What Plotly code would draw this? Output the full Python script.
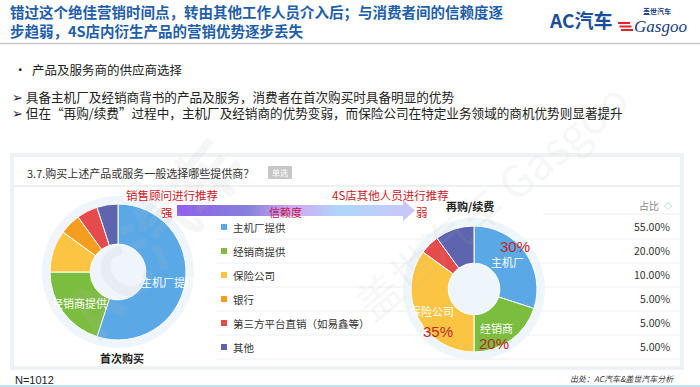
import plotly.graph_objects as go

W, H = 700, 387

# ---------------- data ----------------
providers = ['主机厂提供', '经销商提供', '保险公司', '银行', '第三方平台直销（如易鑫等）', '其他']
first_buy = [55, 20, 10, 5, 5, 5]          # 首次购买 (%)
rebuy = [30, 20, 35, 0, 5, 10]             # 再购/续费 (%)
share_labels = ['55.00%', '20.00%', '10.00%', '5.00%', '5.00%', '5.00%']
rebuy_short = ['主机厂', '经销商', '保险公司']
colors = ['#5aa9e6', '#7abd3f', '#fcc443', '#f59d1f', '#e64b4b', '#5f64ae']

title_lines = ['错过这个绝佳营销时间点，转由其他工作人员介入后；与消费者间的信赖度逐',
               '步趋弱，4S店内衍生产品的营销优势逐步丢失']
bullets = ['•  产品及服务商的供应商选择',
           '➢ 具备主机厂及经销商背书的产品及服务，消费者在首次购买时具备明显的优势',
           '➢ 但在“再购/续费”过程中，主机厂及经销商的优势变弱，而保险公司在特定业务领域的商机优势则显著提升']

CJK = 'Noto Sans CJK SC'
RED = '#cc2027'


def px_domain(cx, cy, r):
    return dict(x=[(cx - r) / W, (cx + r) / W], y=[1 - (cy + r) / H, 1 - (cy - r) / H])


fig = go.Figure()

shapes = []
ann = []

# title separator
shapes.append(dict(type='line', x0=0, x1=700, y0=43.5, y1=43.5, line=dict(color='#c9c9c9', width=1.5), layer='below'))
# bottom line
shapes.append(dict(type='line', x0=0, x1=700, y0=386, y1=386, line=dict(color='#bfe3f2', width=2), layer='below'))

# panel
shapes.append(dict(type='rect', x0=10, x1=684, y0=153, y1=370, fillcolor='#eef2f6', line=dict(width=0), layer='below'))
shapes.append(dict(type='rect', x0=14, x1=680, y0=157, y1=366, fillcolor='#ffffff', line=dict(width=0), layer='below'))
shapes.append(dict(type='line', x0=14, x1=680, y0=186, y1=186, line=dict(color='#e9edf1', width=1.5), layer='below'))

# table lines
shapes.append(dict(type='line', x0=543, x1=680, y0=214, y1=214, line=dict(color='#eef0f3', width=1.2), layer='below'))
for i in range(len(providers)):
    yl = 239 + 24 * i
    shapes.append(dict(type='line', x0=217, x1=680, y0=yl, y1=yl, line=dict(color='#eef0f3', width=1.2), layer='below'))

# pale rings behind donuts
LCX, LCY, LR = 118, 272, 68
RCX, RCY, RR = 474, 289, 63
shapes.append(dict(type='circle', x0=LCX - LR - 8, x1=LCX + LR + 8, y0=LCY - LR - 8, y1=LCY + LR + 8,
                   fillcolor='#eef5fb', line=dict(width=0), layer='below'))
shapes.append(dict(type='circle', x0=RCX - RR - 8, x1=RCX + RR + 8, y0=RCY - RR - 8, y1=RCY + RR + 8,
                   fillcolor='#eef5fb', line=dict(width=0), layer='below'))

# legend squares
for i, c in enumerate(providers):
    yc = 227 + 24 * i
    shapes.append(dict(type='rect', x0=221, x1=227, y0=yc - 3, y1=yc + 3, fillcolor=colors[i], line=dict(width=0)))

# 单选 badge
shapes.append(dict(type='rect', x0=268, x1=292, y0=166, y1=179, fillcolor='#c7c7c7', line=dict(width=0)))

# Gasgoo red stripes
for k in range(3):
    shapes.append(dict(type='line', x0=618 + k * 1.5, x1=630 + k * 1.5, y0=23 + k * 3.5, y1=23 + k * 3.5,
                       line=dict(color='#e0262b', width=2)))

# donuts
fig.add_trace(go.Pie(values=first_buy, labels=providers, hole=0.41, sort=False, direction='clockwise',
                     rotation=0, marker=dict(colors=colors, line=dict(color='white', width=1)),
                     textinfo='none', hoverinfo='skip', showlegend=False,
                     domain=px_domain(LCX, LCY, LR)))
fig.add_trace(go.Pie(values=rebuy, labels=providers, hole=0.41, sort=False, direction='clockwise',
                     rotation=0, marker=dict(colors=colors, line=dict(color='white', width=1)),
                     textinfo='none', hoverinfo='skip', showlegend=False,
                     domain=px_domain(RCX, RCY, RR)))

# gradient arrow
fig.add_trace(go.Scatter(x=[177, 403, 403, 415, 403, 403, 177, 177],
                         y=[205, 205, 200, 210.5, 221, 216, 216, 205],
                         mode='lines', fill='toself', line=dict(width=0), hoverinfo='skip', showlegend=False,
                         fillgradient=dict(type='horizontal',
                                           colorscale=[[0, '#9160ec'], [0.3, '#8580da'], [0.48, '#d2a6f2'],
                                                       [0.68, '#aed6fa'], [1, '#cbc6f8']])))


def txt(x, y, s, size, color='#222', xanchor='center', bold=False, family=CJK, italic=False, angle=0,
        align='left'):
    ann.append(dict(x=x, y=y, xref='x', yref='y', text=('<b>%s</b>' % s) if bold else (('<i>%s</i>' % s) if italic else s),
                    showarrow=False, xanchor=xanchor, yanchor='middle', textangle=angle, align=align,
                    font=dict(family=family, size=size, color=color)))


# faint watermarks
txt(150, 235, 'AC汽车', 70, 'rgba(180,180,180,0.12)', bold=True, angle=-50)
txt(490, 200, '盖世汽车 Gasgoo', 44, 'rgba(180,180,180,0.11)', angle=-40)

# title (two lines in one text block)
txt(8, 21, '<br>'.join(title_lines), 14.5, '#1f5ea8', 'left', bold=True)
# logo
txt(580, 19, 'AC汽车', 19, '#1b4f9a', bold=True)
txt(657, 11, '盖世汽车', 7, '#1a3c80', bold=True)
txt(660, 26, 'Gasgoo', 17, '#1a3c80', italic=True, family='Liberation Serif')

# bullets
txt(12, 69, bullets[0], 12.5, '#222', 'left')
txt(10, 104.5, '<br>'.join(bullets[1:]), 12.6, '#222', 'left')

# panel header
txt(25, 173, '3.7.购买上述产品或服务一般选择哪些提供商？', 11, '#333', 'left')
txt(280, 172.5, '单选', 8, '#ffffff')

# arrow labels
txt(172, 195, '销售顾问进行推荐', 11.5, RED)
txt(390, 195, '4S店其他人员进行推荐', 11.5, RED)
txt(167, 212, '强', 11.5, RED)
txt(422, 212, '弱', 11.5, RED)
txt(285, 212, '信赖度', 11, '#c0184a')

# legend
for i, name in enumerate(providers):
    txt(231, 227 + 24 * i, name, 10.5, '#333', 'left')
    txt(672, 226 + 24 * i, share_labels[i], 10.5, '#333', 'right')
txt(661, 205, '占比', 10, '#888', 'right')
txt(668, 205, '◇', 8, '#5aa9e6')

# donut titles
txt(122, 358, '首次购买', 11, '#222', bold=True)
txt(470, 206, '再购/续费', 11, '#222', bold=True)

# left slice labels
txt(168, 282, providers[0], 11, '#ffffff')
txt(79, 303, providers[1], 11, '#ffffff')

# right slice labels
r_pos = [(507, 262, 515, 246), (496, 328, 494, 343), (432, 311, 438, 331)]
for i, (lx, ly, px_, py_) in enumerate(r_pos):
    txt(lx, ly, rebuy_short[i], 11, '#ffffff')
    txt(px_, py_, '%d%%' % rebuy[i], 15, '#c0282a', family='Liberation Sans')

# footer
txt(13, 380, 'N=1012', 11, '#222', 'left', family='Liberation Sans')
txt(676, 378, '出处：AC汽车&盖世汽车分析', 8, '#333', 'right', italic=True)

fig.update_layout(width=W, height=H, autosize=False, margin=dict(l=0, r=0, t=0, b=0),
                  paper_bgcolor='white', plot_bgcolor='rgba(0,0,0,0)',
                  xaxis=dict(range=[0, W], visible=False, fixedrange=True, domain=[0, 1]),
                  yaxis=dict(range=[H, 0], visible=False, fixedrange=True, domain=[0, 1]),
                  shapes=shapes, annotations=ann, showlegend=False)

fig.write_html('out.html', config={'displayModeBar': False})
